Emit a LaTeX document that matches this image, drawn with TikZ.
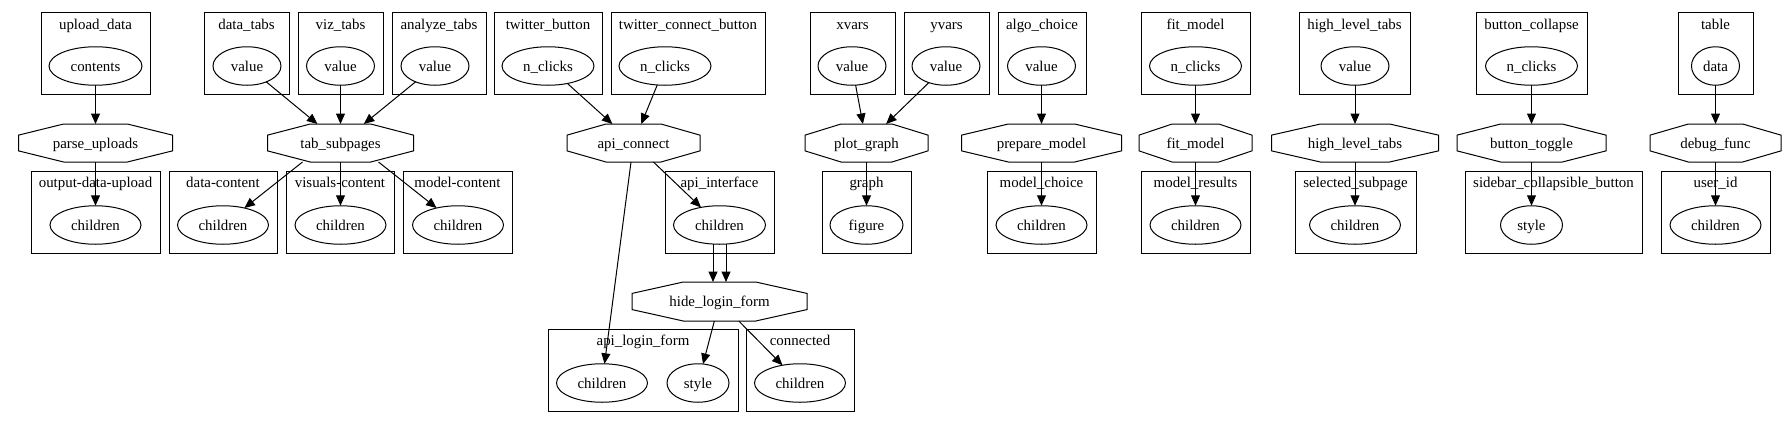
\documentclass[tikz,border=0pt]{standalone}
\usepackage{fontspec}
\setmainfont{Liberation Serif}
\usetikzlibrary{arrows.meta,calc,shapes.geometric}
\newcommand\octdraw[1]{\draw[line width=1pt] ($(#1.north west)!0.293!(#1.north east)$) -- ($(#1.north west)!0.707!(#1.north east)$) -- ($(#1.north east)!0.293!(#1.south east)$) -- ($(#1.north east)!0.707!(#1.south east)$) -- ($(#1.south west)!0.707!(#1.south east)$) -- ($(#1.south west)!0.293!(#1.south east)$) -- ($(#1.north west)!0.707!(#1.south west)$) -- ($(#1.north west)!0.293!(#1.south west)$) -- cycle;}
\begin{document}
\begin{tikzpicture}[x=1pt,y=-1pt, font=\fontsize{14.9}{18}\selectfont,
  every node/.style={inner sep=0pt, outer sep=0pt},
  cluster/.style={draw, line width=1pt, rectangle, minimum height=82pt},
  port/.style={draw, ellipse, line width=1pt, minimum height=38.5pt, text height=10pt, text depth=0pt},
  func/.style={rectangle, minimum height=38pt, text height=10pt, text depth=0pt},
  title/.style={anchor=base},
  edge/.style={-{Triangle[length=10.5pt,width=9pt]}, line width=1pt},
]
\useasboundingbox (0,0) rectangle (1791,426);
% ---- top clusters
\node[cluster, minimum width=109pt] (c_upload) at (95.5,53.5) {};
\node[title] (t_upload) at (95.5,29.5) {upload\_data};
\node[port, minimum width=93pt] (p_contents) at (95.5,66) {contents};
\node[cluster, minimum width=85pt] (c_datatabs) at (246.5,53.5) {};
\node[title] (t_datatabs) at (246.5,29.5) {data\_tabs};
\node[port, minimum width=68pt] (p_datatabs) at (247,66) {value};
\node[cluster, minimum width=85pt] (c_viztabs) at (340.5,53.5) {};
\node[title] (t_viztabs) at (340.5,29.5) {viz\_tabs};
\node[port, minimum width=68pt] (p_viztabs) at (340.5,66) {value};
\node[cluster, minimum width=94pt] (c_analyze) at (439,53.5) {};
\node[title] (t_analyze) at (439,29.5) {analyze\_tabs};
\node[port, minimum width=68pt] (p_analyze) at (435,66) {value};
\node[cluster, minimum width=108pt] (c_twbtn) at (548,53.5) {};
\node[title] (t_twbtn) at (548,29.5) {twitter\_button};
\node[port, minimum width=92pt] (p_twbtn) at (548,66) {n\_clicks};
\node[cluster, minimum width=154pt] (c_twconn) at (688,53.5) {};
\node[title] (t_twconn) at (688,29.5) {twitter\_connect\_button};
\node[port, minimum width=92pt] (p_twconn) at (665,66) {n\_clicks};
\node[cluster, minimum width=85pt] (c_xvars) at (852.5,53.5) {};
\node[title] (t_xvars) at (852.5,29.5) {xvars};
\node[port, minimum width=68pt] (p_xvars) at (852,66) {value};
\node[cluster, minimum width=85pt] (c_yvars) at (946.5,53.5) {};
\node[title] (t_yvars) at (946.5,29.5) {yvars};
\node[port, minimum width=68pt] (p_yvars) at (946,66) {value};
\node[cluster, minimum width=88pt] (c_algo) at (1042,53.5) {};
\node[title] (t_algo) at (1042,29.5) {algo\_choice};
\node[port, minimum width=68pt] (p_algo) at (1041.5,66) {value};
\node[cluster, minimum width=109pt] (c_fitbtn) at (1195.5,53.5) {};
\node[title] (t_fitbtn) at (1195.5,29.5) {fit\_model};
\node[port, minimum width=92pt] (p_fitbtn) at (1195.5,66) {n\_clicks};
\node[cluster, minimum width=111pt] (c_hltin) at (1354.5,53.5) {};
\node[title] (t_hltin) at (1354.5,29.5) {high\_level\_tabs};
\node[port, minimum width=68pt] (p_hltin) at (1355,66) {value};
\node[cluster, minimum width=111pt] (c_collapse) at (1531.5,53.5) {};
\node[title] (t_collapse) at (1531.5,29.5) {button\_collapse};
\node[port, minimum width=92pt] (p_collapse) at (1531.5,66) {n\_clicks};
\node[cluster, minimum width=75pt] (c_table) at (1715.5,53.5) {};
\node[title] (t_table) at (1715.5,29.5) {table};
\node[port, minimum width=48pt] (p_table) at (1715.5,66) {data};
% ---- callbacks
\node[func, minimum width=154pt] (f_parse) at (95.5,143) {parse\_uploads};
\node[func, minimum width=146pt] (f_tab) at (340.5,143) {tab\_subpages};
\node[func, minimum width=133pt] (f_api) at (633.5,143) {api\_connect};
\node[func, minimum width=123pt] (f_plot) at (866.5,143) {plot\_graph};
\node[func, minimum width=160pt] (f_prep) at (1041.5,143) {prepare\_model};
\node[func, minimum width=113pt] (f_fit) at (1195.5,143) {fit\_model};
\node[func, minimum width=167pt] (f_hlt) at (1355,143) {high\_level\_tabs};
\node[func, minimum width=149pt] (f_toggle) at (1531.5,143) {button\_toggle};
\node[func, minimum width=131pt] (f_debug) at (1715.5,143) {debug\_func};
\node[func, minimum width=175pt, minimum height=39pt] (f_hide) at (719.5,301.5) {hide\_login\_form};
\octdraw{f_parse}\octdraw{f_tab}\octdraw{f_api}\octdraw{f_plot}\octdraw{f_prep}
\octdraw{f_fit}\octdraw{f_hlt}\octdraw{f_toggle}\octdraw{f_debug}\octdraw{f_hide}
% ---- bottom clusters
\node[cluster, minimum width=129pt] (c_out) at (95.5,212) {};
\node[title] (t_out) at (95.5,187.5) {output-data-upload};
\node[port, minimum width=91pt] (p_out) at (95.5,225) {children};
\node[cluster, minimum width=108pt] (c_dc) at (223,212) {};
\node[title] (t_dc) at (223,187.5) {data-content};
\node[port, minimum width=91pt] (p_dc) at (223,225) {children};
\node[cluster, minimum width=108pt] (c_vc) at (340,212) {};
\node[title] (t_vc) at (340,187.5) {visuals-content};
\node[port, minimum width=91pt] (p_vc) at (340.5,225) {children};
\node[cluster, minimum width=109pt] (c_mc) at (457.5,212) {};
\node[title] (t_mc) at (457.5,187.5) {model-content};
\node[port, minimum width=91pt] (p_mc) at (458,225) {children};
\node[cluster, minimum width=109pt] (c_ai) at (719.5,212) {};
\node[title] (t_ai) at (719.5,187.5) {api\_interface};
\node[port, minimum width=92pt] (p_ai) at (719.5,225) {children};
\node[cluster, minimum width=89pt] (c_graph) at (866.5,212) {};
\node[title] (t_graph) at (866.5,187.5) {graph};
\node[port, minimum width=73pt] (p_graph) at (866.5,225) {figure};
\node[cluster, minimum width=109pt] (c_mchoice) at (1041.5,212) {};
\node[title] (t_mchoice) at (1041.5,187.5) {model\_choice};
\node[port, minimum width=91pt] (p_mchoice) at (1041.5,225) {children};
\node[cluster, minimum width=109pt] (c_mres) at (1195.5,212) {};
\node[title] (t_mres) at (1195.5,187.5) {model\_results};
\node[port, minimum width=91pt] (p_mres) at (1195.5,225) {children};
\node[cluster, minimum width=121pt] (c_sel) at (1355.5,212) {};
\node[title] (t_sel) at (1355.5,187.5) {selected\_subpage};
\node[port, minimum width=91pt] (p_sel) at (1355,225) {children};
\node[cluster, minimum width=177pt] (c_sidebar) at (1553.5,212) {};
\node[title] (t_sidebar) at (1553.5,187.5) {sidebar\_collapsible\_button};
\node[port, minimum width=62pt] (p_sidebar) at (1531.5,225) {style};
\node[cluster, minimum width=109pt] (c_user) at (1715.5,212) {};
\node[title] (t_user) at (1715.5,187.5) {user\_id};
\node[port, minimum width=91pt] (p_user) at (1715.5,225) {children};
% ---- lowest clusters
\node[cluster, minimum width=190pt] (c_login) at (643,370) {};
\node[title] (t_login) at (643,345.5) {api\_login\_form};
\node[port, minimum width=91pt] (p_loginch) at (602,383) {children};
\node[port, minimum width=62pt] (p_loginst) at (698,383) {style};
\node[cluster, minimum width=108pt] (c_conn) at (800,370) {};
\node[title] (t_conn) at (800,345.5) {connected};
\node[port, minimum width=91pt] (p_conn) at (800,383) {children};
% ---- edges
\draw[edge] (p_contents) -- (f_parse);
\draw[edge] (f_parse) -- (p_out);
\draw[edge] (p_datatabs) -- (f_tab);
\draw[edge] (p_viztabs) -- (f_tab);
\draw[edge] (p_analyze) -- (f_tab);
\draw[edge] ([xshift=-38pt]f_tab.south) -- (p_dc);
\draw[edge] (f_tab) -- (p_vc);
\draw[edge] ([xshift=38pt]f_tab.south) -- (p_mc);
\draw[edge] (p_twbtn) -- (f_api);
\draw[edge] (p_twconn) -- (f_api);
\draw[edge] (f_api) -- (p_ai);
\draw[edge] (f_api) -- (p_loginch);
\draw[edge] ([xshift=-6.5pt]p_ai.south) -- ([xshift=-6.5pt]f_hide.north);
\draw[edge] ([xshift=6.5pt]p_ai.south) -- ([xshift=6.5pt]f_hide.north);
\draw[edge] (f_hide) -- (p_loginst);
\draw[edge] (f_hide) -- (p_conn);
\draw[edge] (p_xvars) -- (f_plot);
\draw[edge] (p_yvars) -- (f_plot);
\draw[edge] (f_plot) -- (p_graph);
\draw[edge] (p_algo) -- (f_prep);
\draw[edge] (f_prep) -- (p_mchoice);
\draw[edge] (p_fitbtn) -- (f_fit);
\draw[edge] (f_fit) -- (p_mres);
\draw[edge] (p_hltin) -- (f_hlt);
\draw[edge] (f_hlt) -- (p_sel);
\draw[edge] (p_collapse) -- (f_toggle);
\draw[edge] (f_toggle) -- (p_sidebar);
\draw[edge] (p_table) -- (f_debug);
\draw[edge] (f_debug) -- (p_user);
\end{tikzpicture}
\end{document}
